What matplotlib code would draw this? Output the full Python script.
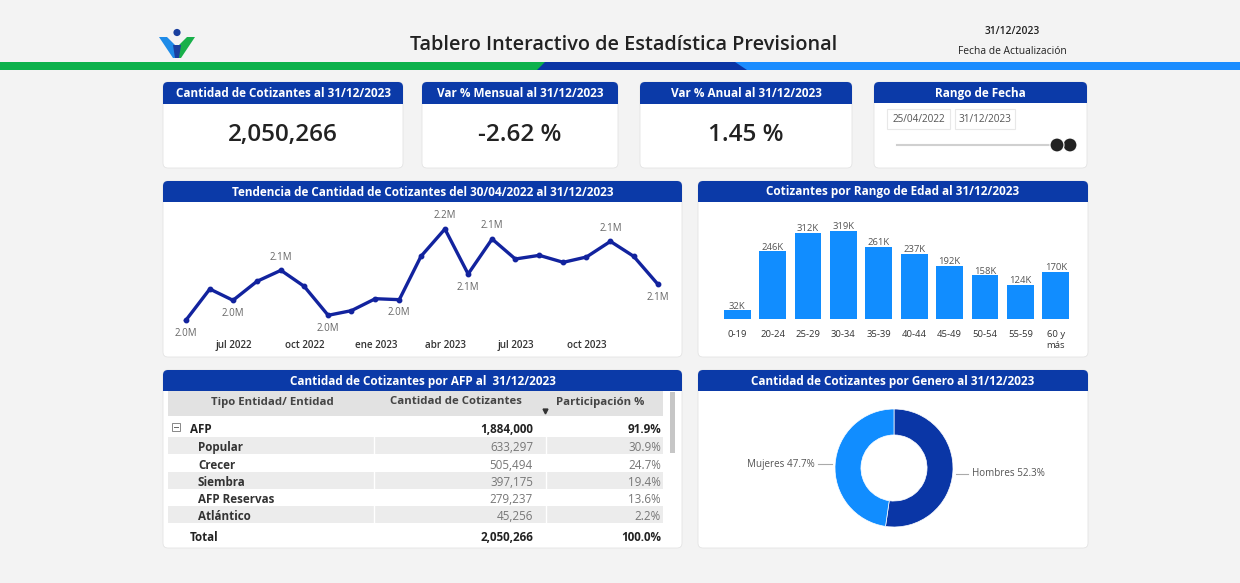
import numpy as np
import pandas as pd
import matplotlib
matplotlib.use('Agg')
import matplotlib.pyplot as plt
from matplotlib.patches import FancyBboxPatch, Rectangle, Polygon, Circle

plt.rcParams['font.family'] = ['Open Sans', 'DejaVu Sans']

# ---- datos ----
fecha_corte = '31/12/2023'
kpi_titulos = ['Cantidad de Cotizantes al 31/12/2023', 'Var % Mensual al 31/12/2023',
               'Var % Anual al 31/12/2023']
kpi_valores = ['2,050,266', '-2.62 %', '1.45 %']
rango_fechas = ['25/04/2022', '31/12/2023']

meses = pd.date_range('2022-04-30', '2023-12-31', freq='ME')
cotizantes = [1978000, 2040300, 2017800, 2055600, 2077500, 2045600, 1988000, 1997200,
              2021000, 2019100, 2105300, 2159700, 2070200, 2139800, 2100000, 2107300,
              2093400, 2104000, 2135100, 2105400, 2050266]
# indice del punto con etiqueta y posicion (1 arriba, -1 abajo)
etiquetas_linea = {0: -1, 2: -1, 4: 1, 6: -1, 9: -1, 11: 1, 12: -1, 13: 1, 18: 1, 20: -1}
ticks_fechas = ['2022-07-01', '2022-10-01', '2023-01-01', '2023-04-01', '2023-07-01', '2023-10-01']
ticks_nombres = ['jul 2022', 'oct 2022', 'ene 2023', 'abr 2023', 'jul 2023', 'oct 2023']

edades = ['0-19', '20-24', '25-29', '30-34', '35-39', '40-44', '45-49', '50-54', '55-59', '60 y\nmás']
por_edad = [32, 246, 312, 319, 261, 237, 192, 158, 124, 170]  # miles

tabla_cols = ['Tipo Entidad/ Entidad', 'Cantidad de Cotizantes', 'Participación %']
entidades = ['Popular', 'Crecer', 'Siembra', 'AFP Reservas', 'Atlántico']
ent_cant = [633297, 505494, 397175, 279237, 45256]
ent_part = [30.9, 24.7, 19.4, 13.6, 2.2]
afp_cant, afp_part = 1884000, 91.9
total_cant, total_part = 2050266, 100.0

generos = ['Hombres', 'Mujeres']
genero_pct = [52.3, 47.7]

# ---- estilo ----
AZUL_HDR = '#0b3aa8'
AZUL_OSC = '#12239e'
AZUL_CLR = '#118dff'
FONDO = '#f3f3f3'
W, H = 1240, 583

fig = plt.figure(figsize=(W / 100, H / 100), dpi=100)
fig.patch.set_facecolor(FONDO)
bg = fig.add_axes([0, 0, 1, 1])
bg.set_xlim(0, W)
bg.set_ylim(H, 0)
bg.axis('off')


def px_axes(x, y, w, h):
    return fig.add_axes([x / W, 1 - (y + h) / H, w / W, h / H])


def tarjeta(x0, y0, x1, y1, titulo, hdr=21):
    bg.add_patch(FancyBboxPatch((x0, y0), x1 - x0, y1 - y0, boxstyle='round,pad=0,rounding_size=5',
                                fc='white', ec='#e4e4e4', lw=0.6, zorder=1))
    bg.add_patch(FancyBboxPatch((x0, y0), x1 - x0, hdr, boxstyle='round,pad=0,rounding_size=5',
                                fc=AZUL_HDR, ec='none', zorder=2))
    bg.add_patch(Rectangle((x0, y0 + hdr / 2), x1 - x0, hdr / 2, fc=AZUL_HDR, ec='none', zorder=2))
    bg.text((x0 + x1) / 2, y0 + hdr / 2 + 0.5, titulo, color='white', fontsize=8.5, fontweight='bold',
            ha='center', va='center', zorder=3)


# encabezado
bg.add_patch(Rectangle((0, 62), 545, 8, fc='#0cb14b', ec='none'))
bg.add_patch(Rectangle((735, 62), W - 735, 8, fc='#1a8cff', ec='none'))
bg.add_patch(Polygon([(545, 62), (735, 62), (747, 70), (537, 70)], closed=True, fc='#0a35a5', ec='none'))
# logo
bg.add_patch(Polygon([(159, 37), (167, 37), (177, 47), (177, 58), (173, 58)], closed=True, fc='#1e8be8', ec='none'))
bg.add_patch(Polygon([(195, 37), (187, 37), (177, 47), (177, 58), (181, 58)], closed=True, fc='#18b04a', ec='none'))
bg.add_patch(Polygon([(173, 45), (181, 45), (179, 58), (175, 58)], closed=True, fc='#1a3f9e', ec='none'))
bg.add_patch(Circle((177, 32.5), 3.6, fc='#1a3f9e', ec='none'))
bg.text(624, 45, 'Tablero Interactivo de Estadística Previsional', fontsize=14.3, color='#222222',
        ha='center', va='center', fontweight='semibold')
bg.text(1012, 31, fecha_corte, fontsize=7.4, color='#222222', ha='center', va='center', fontweight='semibold')
bg.text(1012, 51, 'Fecha de Actualización', fontsize=7.4, color='#222222', ha='center', va='center')

# KPIs
kpi_x = [(163, 403), (422, 618), (640, 852)]
for (x0, x1), t, v in zip(kpi_x, kpi_titulos, kpi_valores):
    tarjeta(x0, 82, x1, 168, t, hdr=22)
    bg.text((x0 + x1) / 2, 135, v, fontsize=17.5, color='#222222', ha='center', va='center',
            fontweight='semibold', zorder=3)

tarjeta(874, 82, 1087, 168, 'Rango de Fecha', hdr=21)
for (bx0, bx1), f in zip([(887, 950), (955, 1015)], rango_fechas):
    bg.add_patch(Rectangle((bx0, 109), bx1 - bx0, 20, fc='white', ec='#e8e8e8', lw=0.8, zorder=3))
    bg.text((bx0 + bx1) / 2, 119, f, fontsize=7.2, color='#555555', ha='center', va='center', zorder=4)
bg.plot([897, 1058], [145, 145], color='#d0d0d0', lw=1.5, zorder=3)
bg.add_patch(Circle((1070, 145), 7, fc='#222222', ec='white', lw=0.8, zorder=4))
bg.add_patch(Circle((1057, 145), 7, fc='#222222', ec='white', lw=0.8, zorder=5))

# paneles
tarjeta(163, 181, 682, 357, 'Tendencia de Cantidad de Cotizantes del 30/04/2022 al 31/12/2023', hdr=21)
tarjeta(698, 181, 1088, 357, 'Cotizantes por Rango de Edad al 31/12/2023', hdr=21)
tarjeta(163, 370, 682, 548, 'Cantidad de Cotizantes por AFP al  31/12/2023', hdr=21)
tarjeta(698, 370, 1088, 548, 'Cantidad de Cotizantes por Genero al 31/12/2023', hdr=21)

# ---- tendencia ----
ax = px_axes(175, 210, 495, 126)
ax.plot(meses, cotizantes, color=AZUL_OSC, lw=2.4, marker='o', ms=3.2, solid_joinstyle='round')
for i, pos in etiquetas_linea.items():
    ax.annotate(f'{cotizantes[i] / 1e6:.1f}M', (meses[i], cotizantes[i]), xytext=(0, 9.5 * pos),
                textcoords='offset points', ha='center', va='center', fontsize=7, color='#666666')
ax.set_xlim(meses[0] - pd.Timedelta(days=14), meses[-1] + pd.Timedelta(days=16))
ax.set_ylim(1946800, 2197500)
ax.set_xticks(pd.to_datetime(ticks_fechas))
ax.set_xticklabels(ticks_nombres, fontsize=7.1, color='#333333', fontweight='semibold')
ax.tick_params(axis='x', length=0, pad=3)
ax.set_yticks([])
ax.patch.set_alpha(0)
for s in ax.spines.values():
    s.set_visible(False)

# ---- edades ----
ax2 = px_axes(716, 215, 361, 104)
xs = np.arange(len(edades))
ax2.bar(xs, por_edad, width=0.76, color=AZUL_CLR)
for x, v in zip(xs, por_edad):
    ax2.text(x, v + 15, f'{v}K', ha='center', va='center', fontsize=6.8, color='#555555')
ax2.set_xlim(-0.6, len(edades) - 0.4)
ax2.set_ylim(0, 377)
ax2.set_xticks(xs)
ax2.set_xticklabels(edades, fontsize=6.8, color='#333333', va='top', linespacing=1.25)
ax2.tick_params(axis='x', length=0, pad=8)
ax2.set_yticks([])
ax2.patch.set_alpha(0)
for s in ax2.spines.values():
    s.set_visible(False)

# ---- tabla ----
bg.add_patch(Rectangle((168, 391), 495, 25, fc='#e2e2e2', ec='none', zorder=3))
for xc, c in zip([272, 456, 600], tabla_cols):
    bg.text(xc, 402, c, fontsize=8.2, fontweight='bold', color='#444444', ha='center', va='center', zorder=4)
bg.plot([545], [411], marker='v', ms=3.5, color='#333333', zorder=4)
bg.add_patch(Rectangle((670, 392), 5, 61, fc='#c6c6c6', ec='none', zorder=3))

fila_y = [445, 463, 480, 497, 514]
for k, y in enumerate(fila_y):
    if k % 2 == 0:
        bg.add_patch(Rectangle((168, y - 8.5), 495, 17, fc='#ececec', ec='none', zorder=3))
        for xs_ in (374, 546):
            bg.plot([xs_, xs_], [y - 8.5, y + 8.5], color='white', lw=1, zorder=3.5)

va_t = 'center_baseline'
bg.add_patch(Rectangle((172, 423), 8, 8, fc='white', ec='#888888', lw=0.7, zorder=4))
bg.plot([174, 178], [427, 427], color='#666666', lw=0.7, zorder=5)
bg.text(190, 428, 'AFP', fontsize=8.4, fontweight='bold', color='#222222', va=va_t, zorder=4)
bg.text(533, 428, f'{afp_cant:,}', fontsize=8.4, fontweight='bold', color='#222222', va=va_t, ha='right', zorder=4)
bg.text(661, 428, f'{afp_part:.1f}%', fontsize=8.4, fontweight='bold', color='#222222', va=va_t, ha='right', zorder=4)
for y, n, c, p in zip(fila_y, entidades, ent_cant, ent_part):
    bg.text(198, y + 1, n, fontsize=8.4, fontweight='bold', color='#333333', va=va_t, zorder=4)
    bg.text(533, y + 1, f'{c:,}', fontsize=8.4, color='#777777', va=va_t, ha='right', zorder=4)
    bg.text(661, y + 1, f'{p:.1f}%', fontsize=8.4, color='#777777', va=va_t, ha='right', zorder=4)
bg.text(190, 536, 'Total', fontsize=8.4, fontweight='bold', color='#222222', va=va_t, zorder=4)
bg.text(533, 536, f'{total_cant:,}', fontsize=8.4, fontweight='bold', color='#222222', va=va_t, ha='right', zorder=4)
bg.text(661, 536, f'{total_part:.1f}%', fontsize=8.4, fontweight='bold', color='#222222', va=va_t, ha='right', zorder=4)

# ---- genero ----
ax3 = px_axes(894 - 59, 468 - 59, 118, 118)
ax3.pie(genero_pct, colors=['#0a36a6', AZUL_CLR], startangle=90, counterclock=False,
        radius=1, wedgeprops=dict(width=0.44, edgecolor='white', linewidth=0.5))
ax3.set_xlim(-1, 1)
ax3.set_ylim(-1, 1)
ax3.set_aspect('equal')
ax3.axis('off')
bg.plot([818, 832], [464, 464], color='#aaaaaa', lw=0.8, zorder=4)
bg.text(815, 464, f'{generos[1]} {genero_pct[1]}%', fontsize=7.1, color='#555555', ha='right', va='center', zorder=4)
bg.plot([956, 968], [474, 474], color='#aaaaaa', lw=0.8, zorder=4)
bg.text(972, 474, f'{generos[0]} {genero_pct[0]}%', fontsize=7.1, color='#555555', ha='left', va='center', zorder=4)

fig.savefig('out.png', dpi=100, facecolor=fig.get_facecolor())
